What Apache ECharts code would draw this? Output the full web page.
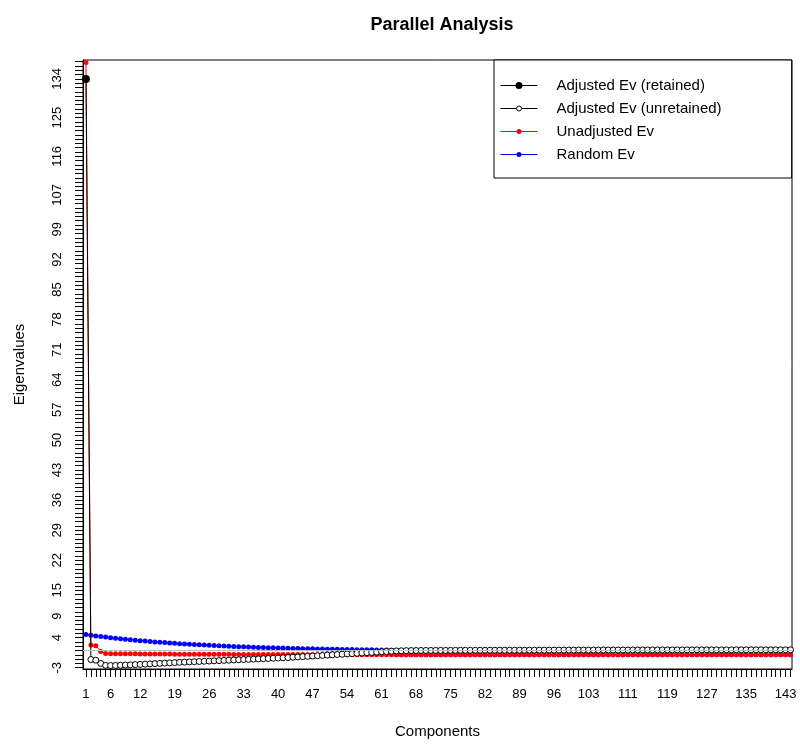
<!DOCTYPE html>
<html>
<head>
<meta charset="utf-8">
<script src="https://cdn.jsdelivr.net/npm/echarts@6/dist/echarts.min.js"></script>
<style>
  html, body { margin: 0; padding: 0; background: #fff; }
  #chart { width: 800px; height: 745px; }
</style>
</head>
<body>
<div id="chart"></div>
<script>
// component numbers 1..144
const components = Array.from({ length: 144 }, (_, i) => i + 1);

// eigenvalues
const adjustedEv = [
  134.0, -1.1, -1.25, -2.0, -2.45, -2.5, -2.47, -2.43, -2.38, -2.33,
  -2.28, -2.23, -2.17, -2.11, -2.05, -1.99, -1.93, -1.87, -1.81, -1.75,
  -1.7, -1.65, -1.6, -1.55, -1.5, -1.45, -1.4, -1.35, -1.3, -1.25,
  -1.2, -1.15, -1.1, -1.05, -1.0, -0.95, -0.9, -0.85, -0.8, -0.75,
  -0.69, -0.63, -0.56, -0.49, -0.42, -0.35, -0.28, -0.21, -0.14, -0.07,
  0.0, 0.07, 0.14, 0.21, 0.28, 0.35, 0.42, 0.49, 0.56, 0.63,
  0.7, 0.77, 0.84, 0.9, 0.94, 0.97, 0.99, 1.0, 1.01, 1.01,
  1.02, 1.02, 1.03, 1.03, 1.04, 1.04, 1.05, 1.05, 1.05, 1.06,
  1.06, 1.06, 1.07, 1.07, 1.07, 1.07, 1.08, 1.08, 1.08, 1.08,
  1.09, 1.09, 1.09, 1.09, 1.1, 1.1, 1.1, 1.1, 1.1, 1.1,
  1.11, 1.11, 1.11, 1.11, 1.11, 1.12, 1.12, 1.12, 1.12, 1.12,
  1.12, 1.13, 1.13, 1.13, 1.13, 1.13, 1.13, 1.14, 1.14, 1.14,
  1.14, 1.14, 1.14, 1.14, 1.15, 1.15, 1.15, 1.15, 1.15, 1.15,
  1.15, 1.15, 1.16, 1.16, 1.16, 1.16, 1.16, 1.16, 1.16, 1.16,
  1.16, 1.16, 1.16, 1.16
];

const unadjustedEv = [
  137.8, 2.3, 2.1, 0.8, 0.32, 0.26, 0.25, 0.24, 0.23, 0.22,
  0.22, 0.21, 0.2, 0.2, 0.19, 0.18, 0.18, 0.17, 0.16, 0.16,
  0.15, 0.15, 0.14, 0.14, 0.13, 0.13, 0.12, 0.12, 0.11, 0.11,
  0.1, 0.1, 0.09, 0.09, 0.08, 0.08, 0.08, 0.07, 0.07, 0.06,
  0.06, 0.06, 0.05, 0.05, 0.05, 0.04, 0.04, 0.04, 0.03, 0.03,
  0.03, 0.03, 0.02, 0.02, 0.02, 0.02, 0.01, 0.01, 0.01, 0.01,
  0.01, 0, 0, 0, 0, 0, 0, 0, 0, 0,
  0, 0, 0, 0, 0, 0, 0, 0, 0, 0,
  0, 0, 0, 0, 0, 0, 0, 0, 0, 0,
  0, 0, 0, 0, 0, 0, 0, 0, 0, 0,
  0, 0, 0, 0, 0, 0, 0, 0, 0, 0,
  0, 0, 0, 0, 0, 0, 0, 0, 0, 0,
  0, 0, 0, 0, 0, 0, 0, 0, 0, 0,
  0, 0, 0, 0, 0, 0, 0, 0, 0, 0,
  0, 0, 0, 0
];

const randomEv = [
  4.70, 4.54, 4.40, 4.25, 4.12, 3.99, 3.86, 3.74, 3.62, 3.51,
  3.40, 3.30, 3.20, 3.10, 3.01, 2.92, 2.84, 2.76, 2.68, 2.60,
  2.53, 2.46, 2.39, 2.33, 2.27, 2.21, 2.15, 2.10, 2.05, 1.99,
  1.95, 1.90, 1.86, 1.81, 1.77, 1.73, 1.69, 1.66, 1.62, 1.59,
  1.56, 1.52, 1.49, 1.47, 1.44, 1.41, 1.39, 1.36, 1.34, 1.31,
  1.29, 1.27, 1.25, 1.23, 1.21, 1.20, 1.18, 1.16, 1.15, 1.13,
  1.12, 1.10, 1.09, 0, 0, 0, 0, 0, 0, 0,
  0, 0, 0, 0, 0, 0, 0, 0, 0, 0,
  0, 0, 0, 0, 0, 0, 0, 0, 0, 0,
  0, 0, 0, 0, 0, 0, 0, 0, 0, 0,
  0, 0, 0, 0, 0, 0, 0, 0, 0, 0,
  0, 0, 0, 0, 0, 0, 0, 0, 0, 0,
  0, 0, 0, 0, 0, 0, 0, 0, 0, 0,
  0, 0, 0, 0, 0, 0, 0, 0, 0, 0,
  0, 0, 0, 0
];

const retainedCount = 1;

// tick labels that survive on the axes
const xTickLabels = [1, 6, 12, 19, 26, 33, 40, 47, 54, 61, 68, 75, 82, 89, 96, 103, 111, 119, 127, 135, 143];
const yTickLabels = [-3, 4, 9, 15, 22, 29, 36, 43, 50, 57, 64, 71, 78, 85, 92, 99, 107, 116, 125, 134];

const xTicks = [];
for (let i = 1; i <= 144; i++) xTicks.push(i);
const yTicks = [];
for (let v = -3; v <= 138; v++) yTicks.push(v);

const font = "'Liberation Sans', Arial, Helvetica, sans-serif";
const toPairs = (vals) => vals.map((v, i) => [components[i], v]);

// legend icons: a thin line with a point in the middle (like R's legend)
const bigDotIcon = 'path://M0,3 L37,3 L37,4 L0,4 Z M15,3.5 A3.5,3.5 0 1,1 22,3.5 A3.5,3.5 0 1,1 15,3.5 Z';
const dotIcon = 'path://M0,2 L37,2 L37,3 L0,3 Z M16,2.5 A2.5,2.5 0 1,1 21,2.5 A2.5,2.5 0 1,1 16,2.5 Z';
const ringIcon = 'path://M0,2.5 L15.5,2.5 M21.5,2.5 L37,2.5 M16,2.5 A2.5,2.5 0 1,1 21,2.5 A2.5,2.5 0 1,1 16,2.5 Z';

const chart = echarts.init(document.getElementById('chart'), null, { renderer: 'canvas' });

const unretainedData = toPairs(adjustedEv).map((p, i) =>
  i < retainedCount ? { value: p, symbol: 'none' } : p
);

const option = {
  animation: false,
  backgroundColor: '#fff',
  textStyle: { fontFamily: font, color: '#000' },
  title: {
    text: 'Parallel Analysis',
    left: 437,
    top: 11,
    textAlign: 'center',
    textStyle: { fontFamily: font, fontSize: 18, fontWeight: 'bold', color: '#000' }
  },
  legend: {
    orient: 'vertical',
    left: 494,
    top: 60,
    padding: [17, 70, 15, 6],
    itemWidth: 37,
    itemHeight: 7,
    itemGap: 6,
    symbolKeepAspect: true,
    borderColor: '#000',
    borderWidth: 1,
    borderRadius: 0,
    backgroundColor: '#fff',
    selectedMode: false,
    data: [
      { name: 'Adjusted Ev (retained)', icon: bigDotIcon, itemStyle: { color: '#000', borderWidth: 0 } },
      { name: 'Adjusted Ev (unretained)', icon: ringIcon, itemStyle: { color: '#fff', borderColor: '#000', borderWidth: 1 } },
      { name: 'Unadjusted Ev', icon: dotIcon, itemStyle: { color: '#FF0000', borderWidth: 0 } },
      { name: 'Random Ev', icon: dotIcon, itemStyle: { color: '#0000FF', borderWidth: 0 } }
    ],
    textStyle: { fontFamily: font, fontSize: 15, color: '#000', lineHeight: 17, padding: [0, 0, 0, 14] }
  },
  grid: {
    left: 83,
    right: 8,
    top: 60,
    bottom: 76,
    show: true,
    borderColor: '#000',
    borderWidth: 1,
    backgroundColor: 'transparent',
    containLabel: false,
    outerBoundsMode: 'none'
  },
  xAxis: {
    type: 'value',
    min: 0.4,
    max: 144.3,
    name: 'Components',
    nameLocation: 'middle',
    nameGap: 55,
    nameTextStyle: { fontFamily: font, fontSize: 15, color: '#000' },
    axisLine: { show: true, onZero: false, lineStyle: { color: '#000', width: 1 } },
    axisTick: { show: true, inside: false, length: 8, customValues: xTicks, lineStyle: { color: '#000', width: 1 } },
    axisLabel: { show: true, customValues: xTickLabels, margin: 19, fontSize: 13, color: '#000', fontFamily: font, hideOverlap: false },
    splitLine: { show: false }
  },
  yAxis: {
    type: 'value',
    min: -3.3,
    max: 138.4,
    name: 'Eigenvalues',
    nameLocation: 'middle',
    nameGap: 56,
    nameRotate: 90,
    nameTextStyle: { fontFamily: font, fontSize: 15, color: '#000' },
    axisLine: { show: true, onZero: false, lineStyle: { color: '#000', width: 1 } },
    axisTick: { show: true, inside: false, length: 8, customValues: yTicks, lineStyle: { color: '#000', width: 1 } },
    axisLabel: { show: true, customValues: yTickLabels, rotate: 90, margin: 19, fontSize: 13, color: '#000', fontFamily: font, hideOverlap: false },
    splitLine: { show: false }
  },
  series: [
    {
      name: 'Random Ev',
      type: 'line',
      z: 2,
      data: toPairs(randomEv),
      symbol: 'circle',
      symbolSize: 5,
      showAllSymbol: true,
      silent: true,
      itemStyle: { color: '#0000FF' },
      lineStyle: { color: '#0000FF', width: 1 },
      markLine: {
        silent: true,
        symbol: 'none',
        label: { show: false },
        lineStyle: { color: '#BEBEBE', width: 1, type: 'solid' },
        data: [{ yAxis: 1 }]
      }
    },
    {
      name: 'Unadjusted Ev',
      type: 'line',
      z: 3,
      data: toPairs(unadjustedEv),
      symbol: 'circle',
      symbolSize: 5,
      showAllSymbol: true,
      silent: true,
      itemStyle: { color: '#FF0000' },
      lineStyle: { color: '#FF0000', width: 1 }
    },
    {
      name: 'Adjusted Ev (unretained)',
      type: 'line',
      z: 4,
      data: unretainedData,
      symbol: 'circle',
      symbolSize: 6,
      showAllSymbol: true,
      silent: true,
      itemStyle: { color: '#fff', borderColor: '#000', borderWidth: 1 },
      lineStyle: { color: '#000', width: 1 }
    },
    {
      name: 'Adjusted Ev (retained)',
      type: 'line',
      z: 5,
      data: toPairs(adjustedEv.slice(0, retainedCount)),
      symbol: 'circle',
      symbolSize: 8,
      showAllSymbol: true,
      silent: true,
      itemStyle: { color: '#000' },
      lineStyle: { color: '#000', width: 1 }
    }
  ]
};

chart.setOption(option);
</script>
</body>
</html>
